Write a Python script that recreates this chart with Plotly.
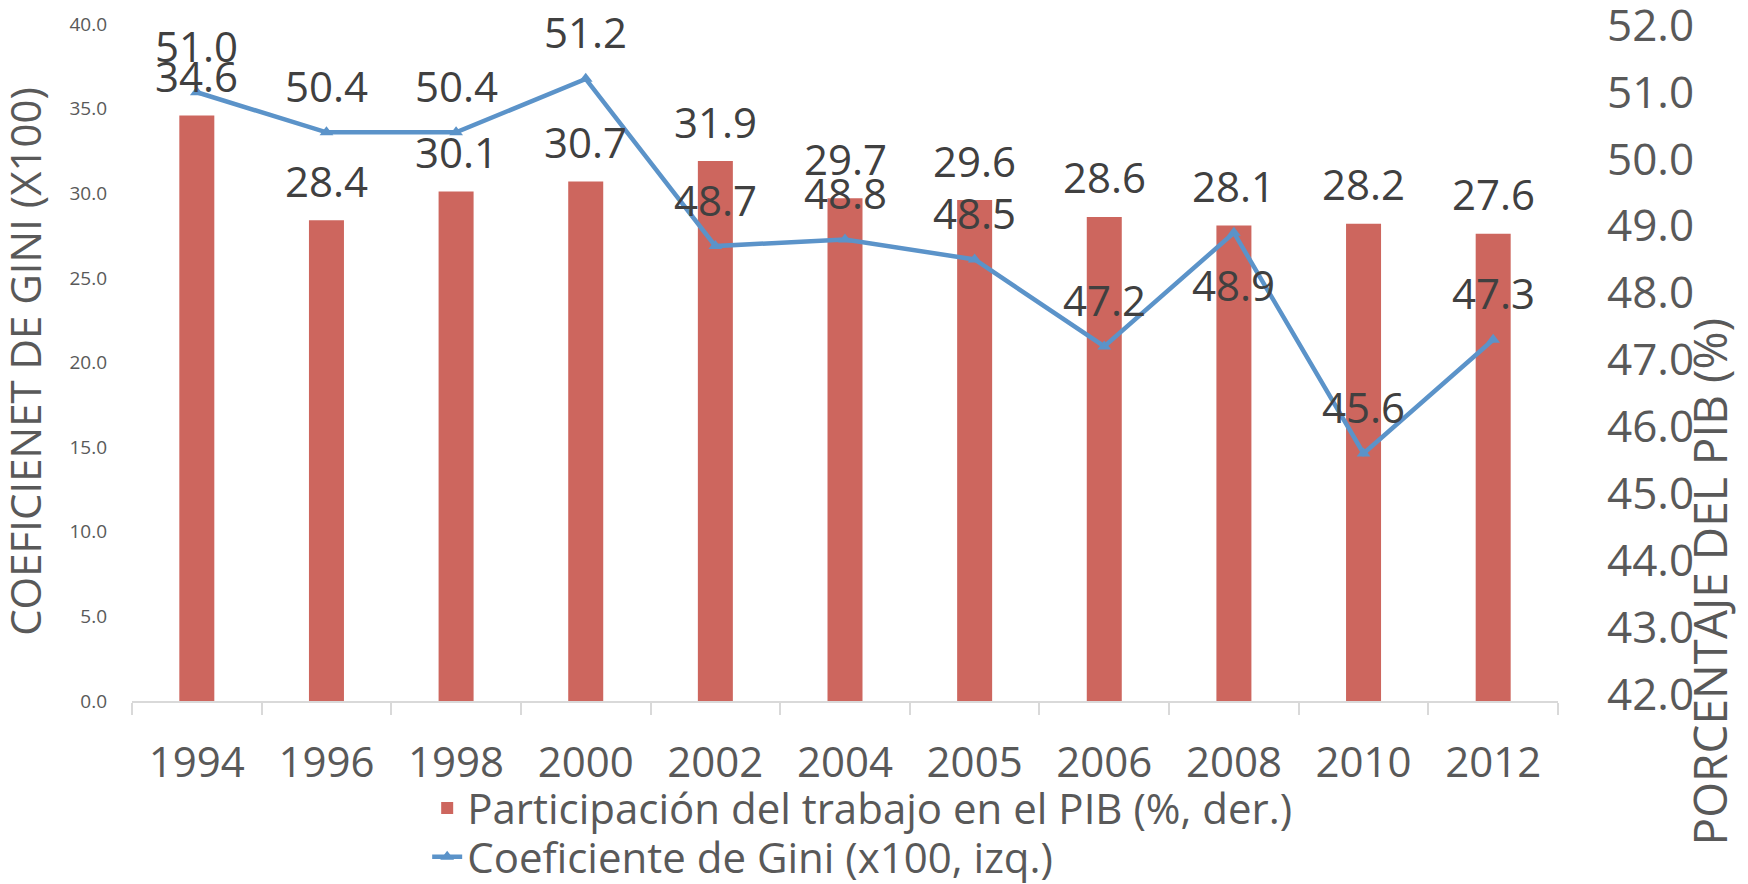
import plotly.graph_objects as go

years = ["1994", "1996", "1998", "2000", "2002", "2004", "2005", "2006", "2008", "2010", "2012"]
labor_share = [34.6, 28.4, 30.1, 30.7, 31.9, 29.7, 29.6, 28.6, 28.1, 28.2, 27.6]
gini = [51.0, 50.4, 50.4, 51.2, 48.7, 48.8, 48.5, 47.2, 48.9, 45.6, 47.3]
gini_label_below = [False, False, False, False, False, False, False, False, True, False, False]

left_ticks = [0, 5, 10, 15, 20, 25, 30, 35, 40]
right_ticks = [42, 43, 44, 45, 46, 47, 48, 49, 50, 51, 52]

FONT = "Open Sans, Noto Sans, sans-serif"
BAR_COLOR = "#CD665E"
LINE_COLOR = "#5B93C9"
TICK_COLOR = "#595959"
LABEL_COLOR = "#404040"

fig = go.Figure()
fig.add_trace(go.Bar(
    x=years, y=labor_share, yaxis="y",
    name="Participación del trabajo en el PIB (%, der.)",
    marker=dict(color=BAR_COLOR, line=dict(width=0)),
    legend="legend",
))
fig.add_trace(go.Scatter(
    x=years, y=gini, yaxis="y2", mode="lines+markers",
    name="Coeficiente de Gini (x100, izq.)",
    line=dict(color=LINE_COLOR, width=4.5),
    marker=dict(symbol="triangle-up", size=12, color=LINE_COLOR),
    legend="legend2",
))

annotations = []
for i, v in enumerate(labor_share):
    annotations.append(dict(x=i, y=v, xref="x", yref="y", text=f"{v:.1f}",
                            showarrow=False, yshift=40, yanchor="middle",
                            font=dict(family=FONT, size=42, color=LABEL_COLOR)))
for i, (v, below) in enumerate(zip(gini, gini_label_below)):
    annotations.append(dict(x=i, y=v, xref="x", yref="y2", text=f"{v:.1f}",
                            showarrow=False, yshift=-52 if below else 47, yanchor="middle",
                            font=dict(family=FONT, size=42, color=LABEL_COLOR)))
annotations.append(dict(x=-0.075, y=0.501, xref="paper", yref="paper",
                        text="COEFICIENET DE GINI (X100)", textangle=-90, showarrow=False,
                        xanchor="center", yanchor="middle",
                        font=dict(family=FONT, size=42, color=TICK_COLOR)))
annotations.append(dict(x=1.1056, y=0.176, xref="paper", yref="paper",
                        text="PORCENTAJE DEL PIB (%)", textangle=-90, showarrow=False,
                        xanchor="center", yanchor="middle",
                        font=dict(family=FONT, size=46, color=TICK_COLOR)))

legend_style = dict(orientation="v", xanchor="left", yanchor="top",
                    font=dict(family=FONT, size=42, color=TICK_COLOR),
                    bgcolor="rgba(0,0,0,0)", tracegroupgap=0)

fig.update_layout(
    width=1748, height=884,
    margin=dict(l=124, r=198, t=16, b=191, autoexpand=False),
    paper_bgcolor="white", plot_bgcolor="white",
    font=dict(family=FONT, color=TICK_COLOR),
    bargap=0.73,
    showlegend=True,
    legend=dict(x=0.207, y=-0.108, **legend_style),
    legend2=dict(x=0.207, y=-0.180, **legend_style),
    xaxis=dict(type="category", range=[-0.5, len(years) - 0.5], showline=True,
               linecolor="#D9D9D9", linewidth=1.5,
               ticks="outside", tickson="boundaries", ticklen=12, tickcolor="#D9D9D9",
               tickwidth=1.5, tickangle=0, tickfont=dict(family=FONT, size=42, color=TICK_COLOR),
               ticklabelstandoff=24, showgrid=False, automargin=False),
    yaxis=dict(range=[0, 40], tickvals=left_ticks, tickformat=".1f",
               tickfont=dict(family=FONT, size=19, color=TICK_COLOR),
               showgrid=False, zeroline=False, showline=False, ticklabelstandoff=24,
               automargin=False, ticklabeloverflow="allow"),
    yaxis2=dict(range=[41.9, 52.02], tickvals=right_ticks, tickformat=".1f",
                overlaying="y", side="right",
                tickfont=dict(family=FONT, size=44, color=TICK_COLOR),
                showgrid=False, zeroline=False, showline=False, ticklabelstandoff=48,
                automargin=False, ticklabeloverflow="allow"),
    annotations=annotations,
)

fig.write_html("out.html")
